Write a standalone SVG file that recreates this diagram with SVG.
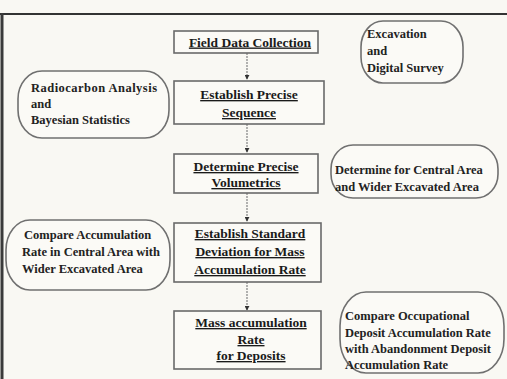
<svg xmlns="http://www.w3.org/2000/svg" width="507" height="379" viewBox="0 0 507 379">
<defs>
<marker id="ah" viewBox="0 0 6 6" refX="5" refY="3" markerWidth="5" markerHeight="5" orient="auto" markerUnits="userSpaceOnUse">
<path d="M0,0 L6,3 L0,6 Z" fill="#333"/>
</marker>
<style>
.box{fill:#fbfaf6;stroke:#6a6a6a;stroke-width:1.6}
.oval{fill:#fbfaf6;stroke:#707070;stroke-width:1.6}
.bt{font-family:"Liberation Serif","Times New Roman",serif;font-size:13.5px;font-weight:bold;fill:#1a1a1a;text-anchor:middle;text-decoration:underline}
.ot{font-family:"Liberation Serif","Times New Roman",serif;font-size:12.5px;font-weight:bold;fill:#222}
.con{stroke:#8a8a8a;stroke-width:1.3;stroke-dasharray:2,1;fill:none}
</style>
</defs>
<rect x="0" y="0" width="507" height="379" fill="#f9f8f3"/>
<line x1="0" y1="14" x2="507" y2="14" stroke="#333" stroke-width="2"/>
<line x1="2" y1="13" x2="2" y2="379" stroke="#3a3a3a" stroke-width="3"/>

<g id="connectors">
<line class="con" x1="247" y1="53" x2="247" y2="79" marker-end="url(#ah)"/>
<line class="con" x1="247" y1="124" x2="247" y2="152" marker-end="url(#ah)"/>
<line class="con" x1="247" y1="193" x2="247" y2="221" marker-end="url(#ah)"/>
<line class="con" x1="247" y1="282" x2="247" y2="310" marker-end="url(#ah)"/>
</g>

<g id="field">
<rect class="box" x="174" y="31" width="144" height="22"/>
<text class="bt" x="250" y="46.5">Field Data Collection</text>
</g>
<g id="sequence">
<rect class="box" x="174" y="81" width="150" height="43"/>
<text class="bt" x="249" y="99">Establish Precise</text>
<text class="bt" x="249" y="117">Sequence</text>
</g>
<g id="volumetrics">
<rect class="box" x="174" y="154" width="144" height="39"/>
<text class="bt" x="246" y="171">Determine Precise</text>
<text class="bt" x="246" y="187">Volumetrics</text>
</g>
<g id="deviation">
<rect class="box" x="174" y="223" width="147" height="59"/>
<text class="bt" x="250" y="238">Establish Standard</text>
<text class="bt" x="250" y="256">Deviation for Mass</text>
<text class="bt" x="250" y="274">Accumulation Rate</text>
</g>
<g id="mass">
<rect class="box" x="174" y="311" width="147" height="58"/>
<text class="bt" x="251" y="327">Mass accumulation</text>
<text class="bt" x="251" y="344">Rate</text>
<text class="bt" x="251" y="360">for Deposits</text>
</g>

<g id="excavation">
<rect class="oval" x="361" y="21" width="102" height="62" rx="22" ry="26"/>
<text class="ot" x="367" y="38">Excavation</text>
<text class="ot" x="367" y="55">and</text>
<text class="ot" x="367" y="72">Digital Survey</text>
</g>
<g id="radiocarbon">
<rect class="oval" x="18" y="71" width="151" height="67" rx="24" ry="28"/>
<text class="ot" x="31" y="92" textLength="126">Radiocarbon Analysis</text>
<text class="ot" x="31" y="108">and</text>
<text class="ot" x="31" y="124">Bayesian Statistics</text>
</g>
<g id="central">
<rect class="oval" x="331" y="145" width="167" height="53" rx="22" ry="24"/>
<text class="ot" x="335" y="174">Determine for Central Area</text>
<text class="ot" x="335" y="191">and Wider Excavated Area</text>
</g>
<g id="compareAcc">
<rect class="oval" x="6" y="220" width="164" height="70" rx="24" ry="30"/>
<text class="ot" x="24" y="239">Compare Accumulation</text>
<text class="ot" x="22" y="256">Rate in Central Area with</text>
<text class="ot" x="22" y="273">Wider Excavated Area</text>
</g>
<g id="compareOcc">
<rect class="oval" x="340" y="292" width="164" height="81" rx="26" ry="34"/>
<text class="ot" x="345" y="320">Compare Occupational</text>
<text class="ot" x="345" y="337">Deposit Accumulation Rate</text>
<text class="ot" x="345" y="353">with Abandonment Deposit</text>
<text class="ot" x="345" y="369">Accumulation Rate</text>
</g>
</svg>
